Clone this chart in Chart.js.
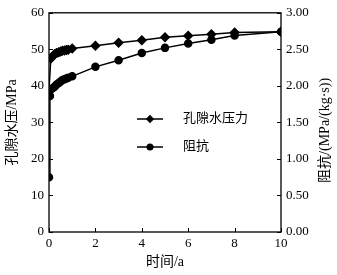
<!DOCTYPE html>
<html>
<head>
<meta charset="utf-8">
<script src="https://cdn.jsdelivr.net/npm/chart.js@4/dist/chart.umd.min.js"></script>
<style>
html,body{margin:0;padding:0;background:#fff;}
#wrap{width:337px;height:275px;position:relative;}
</style>
</head>
<body>
<div id="wrap"><canvas id="c" width="337" height="275"></canvas></div>
<script>
// Data
const poreTime = [0, 0.08, 0.17, 0.25, 0.33, 0.42, 0.5, 0.58, 0.67, 0.75, 0.83, 1, 2, 3, 4, 5, 6, 7, 8, 10];
const porePressure = [39, 47.5, 48.2, 48.7, 49.0, 49.2, 49.4, 49.6, 49.7, 49.8, 49.9, 50.2, 51.0, 51.8, 52.5, 53.3, 53.7, 54.1, 54.6, 54.8];
const resTime = [0, 0.04, 0.08, 0.17, 0.25, 0.33, 0.42, 0.5, 0.58, 0.67, 0.75, 0.83, 1, 2, 3, 4, 5, 6, 7, 8, 10];
const resistance = [0.75, 1.86, 1.95, 1.97, 1.99, 2.02, 2.04, 2.06, 2.08, 2.09, 2.10, 2.11, 2.13, 2.26, 2.35, 2.45, 2.52, 2.58, 2.63, 2.69, 2.74];
const seriesNames = ['孔隙水压力', '阻抗'];
const xTitle = '时间/a';
const yTitle = '孔隙水压/MPa';
const y1Title = '阻抗/(MPa/(kg·s))';

const NUMFONT = "'Liberation Serif','Times New Roman',serif";
const CJKFONT = "'Liberation Serif','Noto Sans CJK SC',serif";

const boxPlugin = {
  id: 'boxPlugin',
  afterDraw(chart) {
    const ctx = chart.ctx, a = chart.chartArea;
    ctx.save();
    ctx.strokeStyle = '#000';
    ctx.lineWidth = 1.3;
    ctx.strokeRect(a.left, a.top, a.right - a.left, a.bottom - a.top);
    // inward ticks
    const L = 4;
    ctx.lineWidth = 1;
    const sx = chart.scales.x;
    sx.ticks.forEach(t => {
      const p = Math.round(sx.getPixelForValue(t.value)) + 0.5;
      ctx.beginPath(); ctx.moveTo(p, a.bottom); ctx.lineTo(p, a.bottom - L); ctx.stroke();
    });
    const sy = chart.scales.y;
    sy.ticks.forEach(t => {
      const p = Math.round(sy.getPixelForValue(t.value)) + 0.5;
      ctx.beginPath(); ctx.moveTo(a.left, p); ctx.lineTo(a.left + L, p); ctx.stroke();
    });
    const sy1 = chart.scales.y1;
    sy1.ticks.forEach(t => {
      const p = Math.round(sy1.getPixelForValue(t.value)) + 0.5;
      ctx.beginPath(); ctx.moveTo(a.right, p); ctx.lineTo(a.right - L, p); ctx.stroke();
    });
    // axis titles
    ctx.fillStyle = '#000';
    ctx.font = "14px " + CJKFONT;
    ctx.textAlign = 'center';
    ctx.textBaseline = 'middle';
    ctx.fillText(xTitle, (a.left + a.right) / 2, 262);
    ctx.save();
    ctx.translate(12, (a.top + a.bottom) / 2);
    ctx.rotate(-Math.PI / 2);
    ctx.fillText(yTitle, 0, 0);
    ctx.restore();
    ctx.save();
    ctx.translate(325, (a.top + a.bottom) / 2 + 8);
    ctx.rotate(-Math.PI / 2);
    ctx.fillText(y1Title, 0, 0);
    ctx.restore();
    // legend
    const ly = [119, 147];
    chart.data.datasets.forEach((ds, i) => {
      const y = ly[i];
      ctx.strokeStyle = '#000';
      ctx.lineWidth = 1.5;
      ctx.beginPath(); ctx.moveTo(137, y); ctx.lineTo(163, y); ctx.stroke();
      ctx.fillStyle = '#000';
      ctx.beginPath();
      if (ds.pointStyle === 'rectRot') {
        const r = 4.2;
        ctx.moveTo(150, y - r); ctx.lineTo(150 + r, y); ctx.lineTo(150, y + r); ctx.lineTo(150 - r, y); ctx.closePath();
      } else {
        ctx.arc(150, y, 3.5, 0, Math.PI * 2);
      }
      ctx.fill();
      ctx.textAlign = 'left';
      ctx.font = "13px " + CJKFONT;
      ctx.fillText(ds.label, 183, y);
    });
    ctx.restore();
  }
};

new Chart(document.getElementById('c'), {
  type: 'line',
  data: {
    datasets: [
      {
        label: seriesNames[0],
        data: poreTime.map((t, i) => ({x: t, y: porePressure[i]})),
        yAxisID: 'y',
        borderColor: '#000', backgroundColor: '#000',
        borderWidth: 1.5, pointStyle: 'rectRot', pointRadius: 4.2, pointHoverRadius: 4.2,
        tension: 0
      },
      {
        label: seriesNames[1],
        data: resTime.map((t, i) => ({x: t, y: resistance[i]})),
        yAxisID: 'y1',
        borderColor: '#000', backgroundColor: '#000',
        borderWidth: 1.5, pointStyle: 'circle', pointRadius: 3.5, pointHoverRadius: 3.5,
        tension: 0
      }
    ]
  },
  options: {
    responsive: false,
    animation: false,
    events: [],
    layout: {padding: {top: 12, left: 0, right: 0, bottom: 0}},
    plugins: {legend: {display: false}, tooltip: {enabled: false}},
    scales: {
      x: {
        type: 'linear', min: 0, max: 10,
        ticks: {stepSize: 2, padding: 4, color: '#000', font: {family: NUMFONT, size: 13}, maxRotation: 0},
        grid: {display: false, drawTicks: false},
        border: {display: false},
        afterFit(s) { s.height = 43; }
      },
      y: {
        type: 'linear', position: 'left', min: 0, max: 60,
        ticks: {stepSize: 10, padding: 5, color: '#000', font: {family: NUMFONT, size: 13}},
        grid: {display: false, drawTicks: false},
        border: {display: false},
        afterFit(s) { s.width = 49; }
      },
      y1: {
        type: 'linear', position: 'right', min: 0, max: 3,
        ticks: {stepSize: 0.5, padding: 5, color: '#000', font: {family: NUMFONT, size: 13},
          callback: v => Number(v).toFixed(2)},
        grid: {display: false, drawTicks: false},
        border: {display: false},
        afterFit(s) { s.width = 56; }
      }
    }
  },
  plugins: [boxPlugin]
});
</script>
</body>
</html>
